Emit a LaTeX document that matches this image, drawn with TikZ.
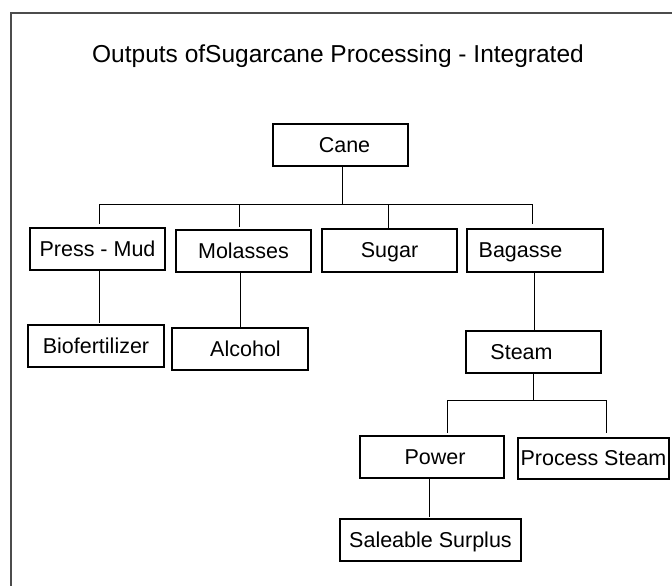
\documentclass[tikz,border=0pt]{standalone}
\usepackage{fontspec}
\setmainfont{Liberation Sans}
% shift a label horizontally inside its box by half of #1
\newcommand\nudged[2]{\makebox[0pt]{\hspace*{#1}#2}}
\begin{document}
\begin{tikzpicture}[x=1pt,y=-1pt,
  box/.style={draw=black, line width=1.2pt, inner sep=0pt, rectangle,
    font=\fontsize{21.5}{25}\selectfont, text height=16pt, text depth=2pt},
  wire/.style={draw=black, line width=1pt},
  frame/.style={draw=black!70, line width=2pt}]
\useasboundingbox (0,0) rectangle (672,586);
% outer frame (only top and left edges fall inside the page)
\draw[frame] (11,600) -- (11,13) -- (690,13);
% title
\node[anchor=base, font=\fontsize{24.5}{29}\selectfont] (title) at (338,63)
  {Outputs ofSugarcane Processing - Integrated};
% boxes: centre, width, height
\node[box, minimum width=135, minimum height=42] (cane)  at (340.5,145) {\nudged{8pt}{Cane}};
\node[box, minimum width=135, minimum height=42] (pmud)  at (97.5,249)  {Press - Mud};
\node[box, minimum width=135, minimum height=42] (mol)   at (243.5,251) {Molasses};
\node[box, minimum width=135, minimum height=43] (sugar) at (389.5,250.5) {Sugar};
\node[box, minimum width=136, minimum height=43] (bag)   at (535,250.5) {\nudged{-29pt}{Bagasse}};
\node[box, minimum width=136, minimum height=42] (bio)   at (96,346)    {Biofertilizer};
\node[box, minimum width=136, minimum height=42] (alc)   at (240,349)   {\nudged{11pt}{Alcohol}};
\node[box, minimum width=135, minimum height=42] (steam) at (533.5,352) {\nudged{-24pt}{Steam}};
\node[box, minimum width=144, minimum height=42] (power) at (432,457)   {\nudged{6pt}{Power}};
\node[box, minimum width=151, minimum height=41] (pst)   at (593.5,458.5) {Process Steam};
\node[box, minimum width=181, minimum height=42] (sale)  at (430.5,540) {Saleable Surplus};
% junction points of the connectors
\coordinate (j1) at (342,204);
\coordinate (bL) at (99,204);
\coordinate (bR) at (532,204);
\coordinate (j2) at (533,400);
\coordinate (sL) at (447,400);
\coordinate (sR) at (606,400);
% first level
\draw[wire] (cane.south -| j1) -- (j1);
\draw[wire] (bL) -- (bR);
\draw[wire, shorten >=3pt] (bL) -- (bL |- pmud.north);
\draw[wire, shorten >=3pt] (239,204) -- (239,230);
\draw[wire, shorten >=1pt] (388,204) -- (388,229);
\draw[wire, shorten >=4pt] (bR) -- (bR |- bag.north);
% second level
\draw[wire, shorten >=2pt] (99,270) -- (99,325);
\draw[wire, shorten >=1pt] (240,272) -- (240,328);
\draw[wire, shorten >=1pt] (534,272) -- (534,331);
% steam split
\draw[wire] (steam.south -| j2) -- (j2);
\draw[wire] (sL) -- (sR);
\draw[wire, shorten >=2pt] (sL) -- (sL |- power.north);
\draw[wire, shorten >=4pt] (sR) -- (sR |- pst.north);
\draw[wire, shorten >=2pt] (429,478) -- (429,519);
\end{tikzpicture}
\end{document}
